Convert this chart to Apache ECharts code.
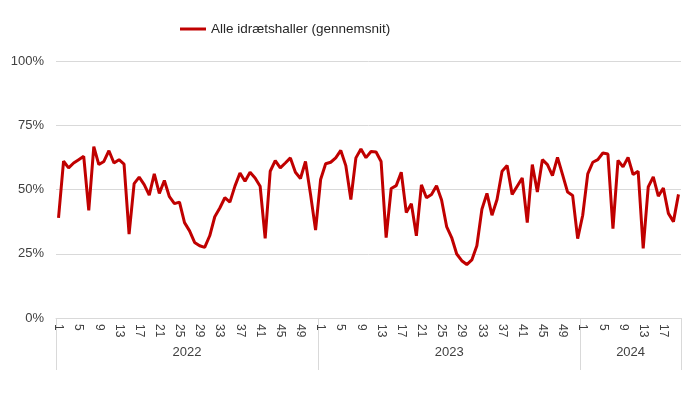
<!DOCTYPE html>
<html>
<head>
<meta charset="utf-8">
<script src="https://cdn.jsdelivr.net/npm/echarts@6/dist/echarts.min.js"></script>
<style>
html,body{margin:0;padding:0;background:#fff;}
#chart{width:699px;height:395px;}
</style>
</head>
<body>
<div id="chart"></div>
<script>
// Years and number of weeks shown per year
const years = ['2022', '2023', '2024'];
const weeksPerYear = [52, 52, 20];
const seriesName = 'Alle idrætshaller (gennemsnit)';

// Weekly average occupancy (%)
const values2022 = [39, 61, 58.4, 60.3, 61.6, 62.9, 41.9, 66.7, 59.7, 60.9, 65.1, 60.3, 61.6, 59.9, 32.6, 52.3, 54.8, 51.9, 47.8, 56.1,
  48.5, 53.5, 47.2, 44.5, 45.1, 37.1, 33.9, 29.4, 28.1, 27.5, 32, 39.4, 42.8, 46.8, 45.1, 51.3, 56.4, 53.2, 56.7, 54.5,
  51.3, 31, 57.1, 61.2, 58.4, 60.3, 62.3, 56.7, 54.3, 60.9, 48.1, 34.2];
const values2023 = [53.9, 60, 60.6, 62.3, 65.2, 59.3, 46.1, 62.3, 65.8, 62.4, 64.8, 64.6, 60.9, 31.3, 50.4, 51.5, 56.7, 41, 44.5, 32,
  51.8, 46.8, 48.1, 51.5, 45.9, 35.6, 31.3, 24.9, 22.3, 20.8, 22.6, 28.1, 42.3, 48.5, 40, 46.1, 57.1, 59.3, 48.1, 51.3,
  54.5, 37.1, 59.7, 49, 61.6, 59.7, 55.4, 62.5, 55.8, 49, 47.7, 30.9];
const values2024 = [40, 56.1, 60.6, 61.6, 64.2, 63.8, 34.8, 61.3, 58.8, 62.5, 55.8, 57.1, 27.1, 51, 54.9, 47.4, 50.6, 40.7, 37.5, 48.1];
const yTicks = [0, 25, 50, 75, 100];

const categories = [];
years.forEach((y, k) => { for (let w = 1; w <= weeksPerYear[k]; w++) categories.push(y + '|' + w); });
const values = values2022.concat(values2023, values2024);

const boundaries = [0];
weeksPerYear.forEach((n, k) => boundaries.push(boundaries[k] + n));
const yearCenters = years.map((y, k) => (boundaries[k] + boundaries[k + 1]) / 2);
const total = boundaries[boundaries.length - 1];

const font = 'Liberation Sans, Arial, sans-serif';
const chart = echarts.init(document.getElementById('chart'));
chart.setOption({
  animation: false,
  textStyle: { fontFamily: font },
  legend: {
    left: 175, top: 17,
    itemWidth: 26, itemHeight: 3, itemGap: 10,
    textStyle: { fontSize: 13.5, color: '#262626', fontFamily: font },
    data: [{ name: seriesName, icon: 'rect', itemStyle: { color: '#C00000' } }]
  },
  grid: { left: 56, right: 18, top: 61, bottom: 77, containLabel: false },
  xAxis: [
    {
      type: 'category',
      data: categories,
      boundaryGap: true,
      axisLine: { show: true, lineStyle: { color: '#d9d9d9', width: 1 } },
      axisTick: { show: false },
      axisLabel: {
        interval: 3, rotate: -90, margin: 6,
        fontSize: 12, color: '#404040', fontFamily: font,
        formatter: v => v.split('|')[1]
      },
      splitLine: { show: false }
    },
    {
      type: 'value',
      position: 'bottom',
      min: 0, max: total,
      axisLine: { show: false },
      axisTick: { show: true, customValues: boundaries, length: 52, lineStyle: { color: '#d9d9d9', width: 1 } },
      axisLabel: {
        customValues: yearCenters, margin: 28, fontSize: 13, color: '#404040', fontFamily: font,
        formatter: v => { const k = yearCenters.indexOf(v); return k >= 0 ? years[k] : ''; }
      },
      splitLine: { show: false }
    }
  ],
  yAxis: {
    type: 'value',
    min: yTicks[0], max: yTicks[yTicks.length - 1], interval: 25,
    axisLine: { show: false },
    axisTick: { show: false },
    axisLabel: { formatter: '{value}%', fontSize: 13, color: '#404040', margin: 12, fontFamily: font },
    splitLine: { lineStyle: { color: '#d9d9d9', width: 1 } }
  },
  series: [{
    name: seriesName,
    type: 'line',
    xAxisIndex: 0,
    data: values,
    symbol: 'none',
    lineStyle: { color: '#C00000', width: 3 },
    itemStyle: { color: '#C00000' }
  }]
});
</script>
</body>
</html>
